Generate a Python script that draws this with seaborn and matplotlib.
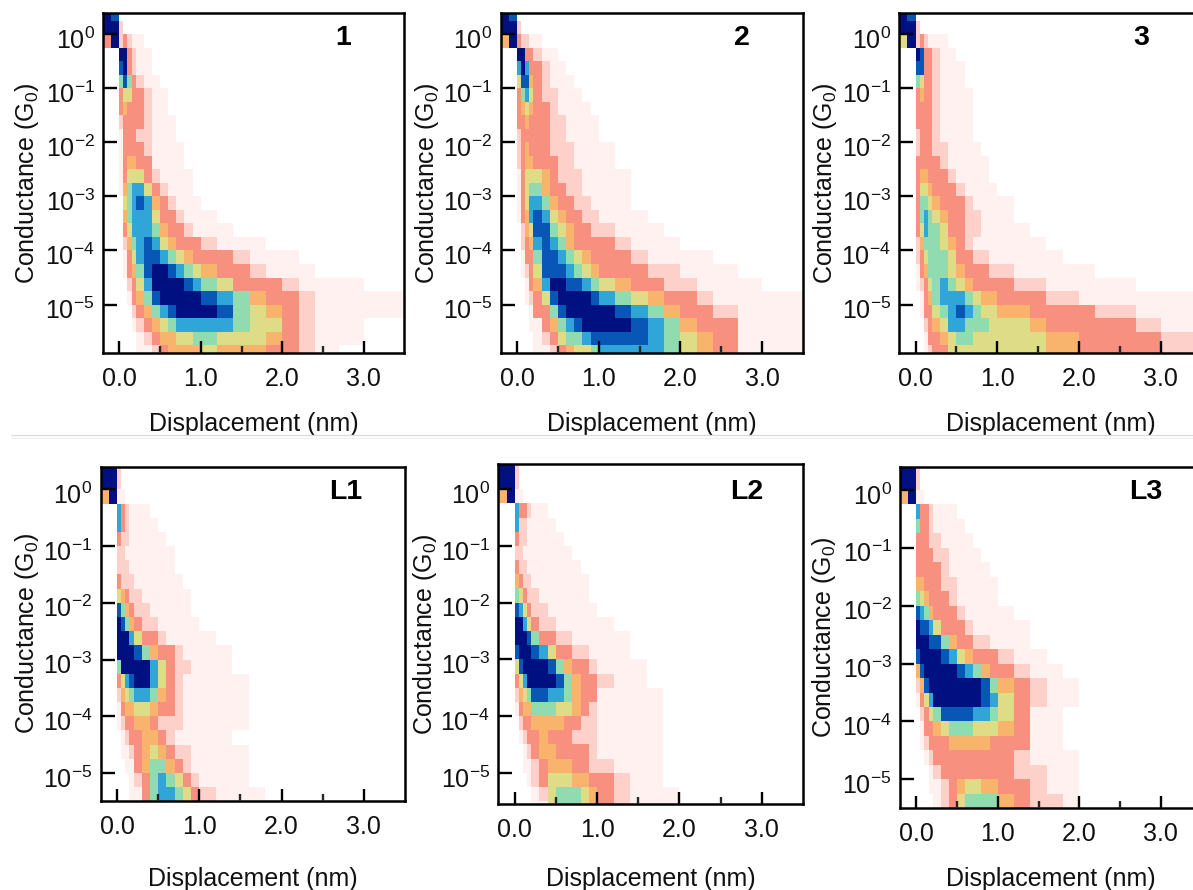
import numpy as np
import pandas as pd
import matplotlib
matplotlib.use("Agg")
import matplotlib.pyplot as plt
import seaborn as sns
from matplotlib.colors import LinearSegmentedColormap
from matplotlib.lines import Line2D
from matplotlib.ticker import FixedLocator, NullLocator
from matplotlib.transforms import ScaledTranslation

# bin edges of the 2D histograms (nm and log10 G/G0)
x_edges = [-0.2, -0.1, 0, 0.05, 0.1, 0.15, 0.2, 0.3, 0.4, 0.5, 0.6, 0.7, 0.8, 0.9, 1.0,
           1.2, 1.4, 1.6, 1.8, 2.0, 2.2, 2.4, 2.7, 3.0, 3.5]
y_edges = [0.5, 0.25, 0, -0.25, -0.5, -0.75, -1, -1.25, -1.5, -1.75, -2, -2.25, -2.5, -2.75,
           -3, -3.25, -3.5, -3.75, -4, -4.25, -4.5, -4.75, -5, -5.25, -5.5, -5.75, -6]

# counts, one row per y bin from the top, trailing empty bins left out
panel_1 = [
    [9, 8],
    [9, 9, 2],
    [3, 9, 2, 3, 2, 1, 1],
    [0, 0, 9, 9, 3, 2, 1, 1],
    [0, 0, 8, 9, 3, 2, 1, 1],
    [0, 0, 6, 8, 6, 3, 2, 1, 1],
    [0, 0, 3, 5, 5, 3, 3, 2, 1, 1],
    [0, 0, 3, 4, 3, 3, 3, 2, 1, 1],
    [0, 0, 2, 3, 3, 3, 3, 2, 1, 1, 1],
    [0, 0, 1, 3, 3, 3, 2, 2, 1, 1, 1],
    [0, 0, 1, 3, 3, 3, 3, 2, 1, 1, 1, 1],
    [0, 0, 1, 3, 4, 4, 3, 3, 1, 1, 1, 1],
    [0, 0, 1, 3, 5, 5, 5, 3, 2, 1, 1, 1, 1],
    [0, 0, 1, 4, 6, 7, 7, 5, 3, 2, 1, 1, 1],
    [0, 0, 0, 5, 6, 7, 8, 7, 4, 3, 2, 1, 1, 1],
    [0, 0, 0, 4, 6, 7, 7, 7, 5, 3, 3, 2, 1, 1, 1],
    [0, 0, 0, 3, 5, 7, 7, 7, 6, 4, 3, 3, 2, 1, 1, 1],
    [0, 0, 0, 2, 4, 6, 7, 8, 7, 5, 4, 3, 3, 3, 2, 1, 1, 1],
    [0, 0, 0, 1, 3, 5, 7, 8, 8, 7, 6, 5, 4, 3, 3, 3, 2, 1, 1, 1],
    [0, 0, 0, 1, 3, 4, 6, 8, 9, 9, 8, 7, 6, 5, 4, 3, 3, 2, 1, 1, 1],
    [0, 0, 0, 0, 2, 3, 5, 7, 9, 9, 9, 9, 8, 7, 6, 5, 3, 3, 3, 2, 1, 1, 1],
    [0, 0, 0, 0, 1, 3, 4, 6, 8, 9, 9, 9, 9, 9, 8, 7, 6, 4, 3, 3, 2, 1, 1, 1],
    [0, 0, 0, 0, 0, 2, 3, 4, 6, 7, 8, 9, 9, 9, 9, 8, 6, 5, 4, 3, 2, 1, 1, 1],
    [0, 0, 0, 0, 0, 1, 2, 3, 4, 5, 6, 7, 7, 7, 7, 7, 6, 5, 5, 3, 2, 1, 1],
    [0, 0, 0, 0, 0, 0, 1, 2, 3, 4, 4, 5, 5, 6, 6, 5, 5, 5, 4, 3, 2, 1, 1],
    [0, 0, 0, 0, 0, 0, 1, 1, 2, 3, 4, 4, 4, 4, 5, 4, 4, 4, 3, 3, 2, 1],
]
panel_2 = [
    [9, 8],
    [9, 9, 2],
    [4, 9, 3, 2, 2, 1, 1],
    [0, 0, 9, 9, 3, 3, 2, 1, 1],
    [0, 0, 7, 9, 7, 3, 3, 2, 1, 1],
    [0, 0, 5, 8, 8, 4, 3, 2, 1, 1, 1],
    [0, 0, 3, 6, 7, 5, 3, 2, 2, 1, 1, 1],
    [0, 0, 3, 4, 5, 4, 3, 3, 2, 1, 1, 1, 1],
    [0, 0, 3, 3, 4, 3, 3, 3, 2, 2, 1, 1, 1, 1],
    [0, 0, 2, 3, 3, 3, 3, 3, 2, 2, 1, 1, 1, 1],
    [0, 0, 2, 3, 4, 3, 3, 3, 2, 2, 2, 1, 1, 1, 1],
    [0, 0, 2, 3, 4, 4, 3, 3, 3, 2, 2, 1, 1, 1, 1],
    [0, 0, 1, 3, 5, 5, 5, 4, 3, 2, 2, 2, 1, 1, 1, 1],
    [0, 0, 1, 3, 5, 6, 6, 4, 3, 3, 2, 2, 1, 1, 1, 1],
    [0, 0, 1, 3, 5, 7, 7, 6, 4, 3, 3, 2, 2, 1, 1, 1],
    [0, 0, 1, 3, 4, 7, 8, 7, 5, 4, 3, 3, 2, 2, 1, 1, 1],
    [0, 0, 0, 2, 4, 5, 8, 8, 6, 5, 4, 3, 3, 2, 2, 1, 1, 1],
    [0, 0, 0, 2, 3, 4, 7, 8, 7, 6, 4, 3, 3, 3, 3, 2, 1, 1, 1],
    [0, 0, 0, 1, 3, 3, 6, 8, 8, 7, 6, 5, 4, 3, 3, 3, 2, 1, 1, 1, 1],
    [0, 0, 0, 1, 2, 3, 5, 8, 8, 8, 7, 6, 5, 4, 3, 3, 3, 2, 2, 1, 1, 1],
    [0, 0, 0, 0, 1, 3, 4, 7, 9, 9, 8, 8, 7, 6, 5, 4, 3, 3, 2, 2, 1, 1, 1],
    [0, 0, 0, 0, 1, 2, 3, 5, 8, 9, 9, 9, 9, 8, 7, 6, 5, 4, 3, 3, 2, 1, 1, 1],
    [0, 0, 0, 0, 0, 1, 3, 3, 6, 8, 9, 9, 9, 9, 9, 8, 7, 6, 4, 3, 3, 2, 1, 1],
    [0, 0, 0, 0, 0, 1, 1, 3, 4, 6, 7, 8, 9, 9, 9, 9, 8, 7, 6, 4, 3, 3, 1, 1],
    [0, 0, 0, 0, 0, 0, 1, 2, 3, 5, 6, 6, 7, 8, 8, 8, 8, 7, 6, 5, 4, 3, 1, 1],
    [0, 0, 0, 0, 0, 0, 1, 1, 2, 3, 4, 5, 5, 6, 7, 7, 7, 7, 6, 5, 4, 3, 1, 1],
]
panel_3 = [
    [9, 8],
    [9, 9, 2],
    [5, 9, 2, 3, 2, 1, 1, 1],
    [0, 0, 9, 8, 3, 3, 2, 1, 1],
    [0, 0, 8, 8, 3, 3, 2, 1, 1, 1],
    [0, 0, 6, 5, 3, 3, 2, 1, 1, 1],
    [0, 0, 3, 4, 3, 3, 2, 1, 1, 1, 1],
    [0, 0, 3, 3, 3, 3, 2, 1, 1, 1, 1],
    [0, 0, 3, 3, 3, 3, 2, 1, 1, 1, 1],
    [0, 0, 2, 3, 3, 3, 2, 1, 1, 1, 1],
    [0, 0, 2, 3, 3, 3, 2, 2, 1, 1, 1, 1],
    [0, 0, 3, 3, 3, 3, 3, 2, 1, 1, 1, 1, 1],
    [0, 0, 3, 4, 4, 3, 3, 3, 2, 1, 1, 1, 1],
    [0, 0, 3, 5, 5, 4, 3, 3, 3, 2, 1, 1, 1, 1],
    [0, 0, 3, 6, 6, 5, 4, 3, 3, 3, 2, 1, 1, 1, 1],
    [0, 0, 3, 6, 7, 6, 5, 4, 3, 3, 2, 2, 1, 1, 1],
    [0, 0, 3, 5, 7, 6, 6, 5, 3, 3, 2, 2, 1, 1, 1, 1],
    [0, 0, 2, 4, 6, 6, 6, 5, 4, 3, 2, 1, 1, 1, 1, 1, 1],
    [0, 0, 2, 3, 5, 6, 6, 6, 5, 3, 3, 2, 2, 1, 1, 1, 1, 1],
    [0, 0, 1, 3, 4, 6, 6, 6, 5, 4, 3, 3, 3, 2, 2, 1, 1, 1, 1, 1],
    [0, 0, 1, 2, 3, 5, 6, 7, 6, 5, 4, 3, 3, 3, 3, 2, 2, 1, 1, 1, 1, 1],
    [0, 0, 0, 1, 3, 4, 6, 7, 7, 7, 6, 5, 4, 4, 3, 3, 3, 2, 2, 1, 1, 1, 1, 1],
    [0, 0, 0, 1, 3, 3, 5, 6, 7, 8, 7, 6, 5, 5, 4, 4, 3, 3, 3, 3, 2, 2, 1, 1],
    [0, 0, 0, 0, 2, 3, 4, 5, 7, 7, 6, 6, 6, 5, 5, 5, 4, 3, 3, 3, 3, 3, 2, 1],
    [0, 0, 0, 0, 1, 3, 3, 4, 5, 6, 6, 5, 5, 5, 5, 5, 5, 4, 4, 3, 3, 3, 3, 2],
    [0, 0, 0, 0, 1, 2, 3, 3, 5, 5, 5, 5, 5, 5, 5, 5, 5, 4, 4, 3, 3, 3, 3, 2],
]
panel_l1 = [
    [9, 9, 2],
    [9, 9, 2],
    [4, 9, 1, 1],
    [0, 0, 7, 3, 2, 1, 1, 1],
    [0, 0, 7, 3, 2, 1, 1, 1, 1],
    [0, 0, 3, 2, 2, 1, 1, 1, 1, 1],
    [0, 0, 2, 2, 1, 1, 1, 1, 1, 1, 1],
    [0, 0, 2, 2, 2, 1, 1, 1, 1, 1, 1],
    [0, 0, 3, 2, 2, 2, 1, 1, 1, 1, 1, 1],
    [0, 0, 5, 4, 3, 2, 2, 1, 1, 1, 1, 1, 1],
    [0, 0, 8, 6, 4, 3, 2, 2, 1, 1, 1, 1, 1],
    [0, 0, 9, 8, 6, 4, 3, 2, 2, 1, 1, 1, 1, 1],
    [0, 0, 9, 9, 9, 7, 5, 3, 3, 2, 1, 1, 1, 1, 1],
    [0, 0, 9, 9, 9, 9, 8, 6, 4, 3, 3, 2, 1, 1, 1, 1],
    [0, 0, 6, 9, 9, 9, 9, 9, 7, 5, 3, 2, 2, 1, 1, 1],
    [0, 0, 3, 5, 7, 8, 9, 9, 7, 5, 3, 2, 1, 1, 1, 1, 1],
    [0, 0, 2, 4, 5, 6, 7, 7, 6, 4, 3, 2, 1, 1, 1, 1, 1],
    [0, 0, 1, 3, 4, 4, 5, 5, 4, 3, 3, 2, 1, 1, 1, 1, 1],
    [0, 0, 1, 2, 3, 3, 4, 4, 3, 2, 2, 2, 1, 1, 1, 1, 1],
    [0, 0, 0, 1, 2, 3, 3, 4, 4, 3, 2, 1, 1, 1, 1, 1],
    [0, 0, 0, 1, 1, 2, 3, 4, 5, 4, 3, 2, 2, 1, 1, 1, 1],
    [0, 0, 0, 0, 1, 1, 3, 4, 6, 6, 4, 3, 2, 1, 1, 1, 1],
    [0, 0, 0, 0, 0, 1, 2, 3, 6, 7, 6, 5, 3, 2, 1, 1, 1],
    [0, 0, 0, 0, 0, 1, 1, 3, 6, 7, 7, 6, 5, 3, 2, 1, 1, 1],
]
panel_l2 = [
    [9, 9, 2],
    [9, 9, 2],
    [4, 9, 1, 1],
    [0, 0, 7, 3, 3, 2, 1, 1],
    [0, 0, 7, 2, 2, 1, 1, 1, 1],
    [0, 0, 3, 2, 2, 1, 1, 1, 1, 1],
    [0, 0, 2, 2, 1, 1, 1, 1, 1, 1, 1],
    [0, 0, 3, 2, 2, 1, 1, 1, 1, 1, 1, 1],
    [0, 0, 4, 3, 2, 2, 1, 1, 1, 1, 1, 1, 1],
    [0, 0, 6, 5, 3, 2, 2, 1, 1, 1, 1, 1, 1],
    [0, 0, 8, 7, 5, 3, 2, 2, 1, 1, 1, 1, 1, 1],
    [0, 0, 9, 9, 7, 5, 3, 2, 2, 1, 1, 1, 1, 1, 1],
    [0, 0, 9, 9, 9, 8, 6, 3, 3, 2, 2, 1, 1, 1, 1, 1],
    [0, 0, 8, 9, 9, 9, 8, 7, 5, 3, 3, 2, 2, 1, 1, 1],
    [0, 0, 5, 8, 9, 9, 9, 9, 8, 6, 4, 3, 3, 2, 1, 1, 1],
    [0, 0, 3, 5, 7, 9, 9, 9, 9, 8, 6, 4, 3, 3, 2, 1, 1],
    [0, 0, 2, 4, 5, 6, 8, 8, 7, 7, 6, 4, 3, 3, 1, 1, 1, 1],
    [0, 0, 1, 3, 4, 4, 6, 6, 6, 5, 5, 4, 3, 2, 1, 1, 1, 1],
    [0, 0, 0, 2, 3, 3, 4, 4, 4, 4, 3, 3, 2, 2, 1, 1, 1, 1],
    [0, 0, 0, 1, 2, 3, 3, 4, 3, 3, 3, 2, 2, 2, 1, 1, 1, 1],
    [0, 0, 0, 0, 1, 2, 3, 4, 4, 3, 3, 3, 3, 2, 1, 1, 1, 1],
    [0, 0, 0, 0, 1, 1, 2, 3, 4, 4, 4, 3, 3, 2, 2, 1, 1, 1],
    [0, 0, 0, 0, 0, 1, 2, 3, 5, 5, 5, 4, 4, 3, 3, 2, 1, 1],
    [0, 0, 0, 0, 0, 0, 1, 2, 5, 6, 6, 6, 5, 4, 3, 2, 1, 1, 1],
    [0, 0, 0, 0, 0, 0, 1, 1, 5, 6, 6, 6, 5, 4, 3, 2, 1, 1, 1],
]
panel_l3 = [
    [9, 9, 2],
    [9, 9, 2],
    [4, 9, 1, 1],
    [0, 0, 7, 3, 3, 2, 1, 1, 1],
    [0, 0, 6, 3, 3, 2, 1, 1, 1, 1],
    [0, 0, 3, 3, 3, 2, 2, 1, 1, 1, 1],
    [0, 0, 3, 3, 3, 3, 2, 2, 1, 1, 1, 1],
    [0, 0, 3, 3, 3, 3, 3, 2, 1, 1, 1, 1, 1],
    [0, 0, 4, 4, 3, 3, 3, 2, 2, 1, 1, 1, 1, 1],
    [0, 0, 6, 5, 4, 3, 3, 3, 2, 1, 1, 1, 1, 1],
    [0, 0, 8, 7, 6, 4, 3, 3, 3, 2, 1, 1, 1, 1, 1],
    [0, 0, 9, 8, 8, 7, 5, 3, 3, 3, 2, 1, 1, 1, 1, 1],
    [0, 0, 9, 9, 9, 8, 8, 6, 4, 3, 3, 2, 2, 1, 1, 1],
    [0, 0, 8, 9, 9, 9, 9, 8, 7, 5, 4, 3, 3, 3, 2, 1, 1],
    [0, 0, 4, 8, 9, 9, 9, 9, 9, 8, 7, 6, 4, 3, 3, 2, 1, 1],
    [0, 0, 2, 4, 8, 9, 9, 9, 9, 9, 9, 9, 8, 6, 4, 3, 2, 1, 1],
    [0, 0, 1, 3, 5, 7, 9, 9, 9, 9, 9, 9, 8, 7, 5, 3, 2, 1, 1],
    [0, 0, 0, 2, 3, 5, 6, 8, 8, 8, 8, 7, 7, 6, 5, 3, 1, 1],
    [0, 0, 0, 1, 3, 3, 4, 5, 6, 6, 6, 5, 5, 5, 4, 3, 1, 1],
    [0, 0, 0, 1, 2, 3, 3, 3, 4, 4, 4, 4, 4, 3, 3, 3, 1, 1],
    [0, 0, 0, 0, 1, 2, 3, 3, 3, 3, 3, 3, 3, 3, 3, 2, 1, 1, 1],
    [0, 0, 0, 0, 0, 1, 2, 3, 3, 3, 3, 3, 3, 3, 3, 2, 2, 1, 1],
    [0, 0, 0, 0, 0, 1, 1, 2, 3, 4, 5, 5, 4, 4, 3, 3, 2, 1, 1],
    [0, 0, 0, 0, 0, 0, 1, 2, 3, 5, 6, 6, 6, 6, 4, 3, 2, 2, 1],
]

panel_names = ["1", "2", "3", "L1", "L2", "L3"]
panel_data = [panel_1, panel_2, panel_3, panel_l1, panel_l2, panel_l3]
y_tick_values = [1, 1e-1, 1e-2, 1e-3, 1e-4, 1e-5]
y_tick_labels = ["0", "-1", "-2", "-3", "-4", "-5"]
x_tick_values = [0, 1, 2, 3]
x_tick_labels = ["0.0", "1.0", "2.0", "3.0"]

FIG_W, FIG_H = 1193, 890
# layout in pixels: frame left, top, right, bottom, y limits (log10),
# x of the y label, y of the x label, centre of the panel name
frames = {
    "1": (103, 13, 404.5, 352.7, 0.39, -5.89, 25, 422, 343, 38),
    "2": (500.7, 13, 803, 352.7, 0.39, -5.89, 425, 422, 742, 38),
    "3": (899.3, 13, 1201.5, 352.7, 0.39, -5.89, 823, 422, 1141, 38),
    "L1": (100.7, 466.7, 404.8, 800.7, 0.40, -5.49, 25, 877, 346, 492),
    "L2": (498.3, 463.7, 803, 804, 0.45, -5.55, 423, 877, 747, 492),
    "L3": (900, 466.7, 1201.5, 808.3, 0.40, -5.50, 822, 877, 1146, 492),
}

sns.set_theme(style="ticks")
plt.rcParams["font.family"] = ["Liberation Sans", "DejaVu Sans"]
plt.rcParams["mathtext.fontset"] = "custom"
plt.rcParams["mathtext.rm"] = "Liberation Sans"
plt.rcParams["mathtext.default"] = "rm"

cmap = LinearSegmentedColormap.from_list(
    "conductance",
    ["#FFFFFF", "#FFF1F0", "#FDCFC8", "#F8907F", "#F8B46C",
     "#E0DC88", "#90DCB0", "#30A8D8", "#0858B8", "#001080"],
)

x_centers = (np.array(x_edges[:-1]) + np.array(x_edges[1:])) / 2
y_centers = (np.array(y_edges[:-1]) + np.array(y_edges[1:])) / 2


def to_frame(rows):
    records = []
    for i, row in enumerate(rows):
        for j, count in enumerate(row):
            records.append((x_centers[j], 10 ** y_centers[i], count))
    return pd.DataFrame(records, columns=["displacement", "conductance", "count"])


fig = plt.figure(figsize=(FIG_W / 100, FIG_H / 100), dpi=100)

for name, rows in zip(panel_names, panel_data):
    left, top, right, bottom, y_top, y_bottom, ylabel_x, xlabel_y, name_x, name_y = frames[name]
    width, height = right - left, bottom - top
    ax = fig.add_axes([left / FIG_W, 1 - bottom / FIG_H, width / FIG_W, height / FIG_H])

    sns.histplot(
        data=to_frame(rows), x="displacement", y="conductance", weights="count",
        bins=[x_edges, y_edges[::-1]], log_scale=(False, True),
        cmap=cmap, vmin=0, vmax=9, thresh=0, ax=ax,
    )

    ax.set_xlim(-0.2, 3.5)
    ax.set_ylim(10 ** y_bottom, 10 ** y_top)

    ax.xaxis.set_major_locator(FixedLocator(x_tick_values))
    ax.xaxis.set_minor_locator(FixedLocator([0.5, 1.5, 2.5]))
    ax.set_xticklabels(x_tick_labels)
    ax.yaxis.set_major_locator(FixedLocator(y_tick_values))
    ax.yaxis.set_minor_locator(NullLocator())
    ax.set_yticklabels(["$10^{%s}$" % t for t in y_tick_labels])

    ax.tick_params(axis="x", which="major", direction="in", length=9, width=1.7, labelsize=18, pad=10, color="black", labelcolor="#111111")
    ax.tick_params(axis="x", which="minor", direction="in", length=5, width=1.7)
    ax.tick_params(axis="y", which="major", direction="in", length=10, width=1.7, labelsize=18, pad=6, color="black", labelcolor="#111111")
    # the "10" sits a little under its tick in the original
    for label in ax.get_yticklabels():
        label.set_transform(label.get_transform() + ScaledTranslation(0, -0.04, fig.dpi_scale_trans))
    for spine in ax.spines.values():
        spine.set_linewidth(1.8)
        spine.set_color("black")
        spine.set_visible(True)
    ax.set_axisbelow(False)

    ax.set_xlabel("Displacement (nm)", fontsize=18, color="#111111")
    ax.set_ylabel("Conductance (G$_0$)", fontsize=18, color="#111111")
    # label anchors are the top of the x label and the right side of the rotated y label
    ax.xaxis.set_label_coords(0.5, (bottom - xlabel_y + 10) / height, transform=ax.transAxes)
    ax.yaxis.set_label_coords((ylabel_x + 16 - left) / width, 0.5, transform=ax.transAxes)

    ax.text((name_x - left) / width, (bottom - name_y) / height, name, transform=ax.transAxes,
            fontsize=20.5, fontweight="bold", color="black", ha="center", va="center")

fig.add_artist(Line2D([11 / FIG_W, 1], [1 - 435.5 / FIG_H] * 2, color="#DADADA", linewidth=0.9))
fig.add_artist(Line2D([11 / FIG_W, 1], [1 - 438 / FIG_H] * 2, color="#EEEEEE", linewidth=0.7))

fig.savefig("out.png", dpi=100)
